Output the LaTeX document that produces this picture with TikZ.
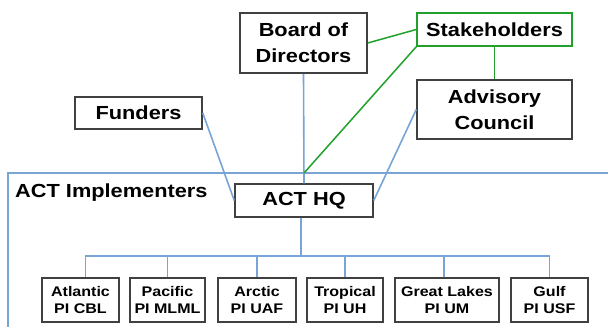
\documentclass[tikz,border=0pt]{standalone}
\usepackage{fontspec}
\setmainfont{Liberation Sans}[FakeStretch=1.15]
\definecolor{boxgray}{RGB}{64,64,64}
\definecolor{lblue}{RGB}{120,164,214}
\definecolor{lgreen}{RGB}{34,160,44}
\begin{document}
\begin{tikzpicture}[x=1bp,y=-1bp,
  box/.style={draw=boxgray, line width=1.5bp, fill=white, inner sep=0pt, align=center,
    font=\bfseries\fontsize{19}{26.5}\selectfont},
  small/.style={draw=boxgray, line width=1.5bp, fill=white, inner sep=0pt, align=center,
    minimum height=44bp, font=\bfseries\fontsize{14}{17.5}\selectfont},
  bl/.style={draw=lblue, line width=1.6bp},
  gl/.style={draw=lgreen, line width=1.5bp}]
\useasboundingbox (0,0) rectangle (608,326);
\fill[white] (0,0) rectangle (608,326);
% frame of ACT Implementers
\draw[bl] (620,173) -- (8,173) -- (8,340);
\coordinate (meet) at (304,173);
\coordinate (bus) at (301,256);
% top nodes
\node[box, minimum width=127bp, minimum height=60bp] (board) at (303.5,43) {Board of\\Directors};
\node[box, draw=lgreen, minimum width=155bp, minimum height=33bp] (stake) at (494.5,29.5) {Stakeholders};
\node[box, minimum width=155bp, minimum height=59bp] (adv) at (494.5,109.5) {Advisory\\Council};
\node[box, minimum width=127bp, minimum height=32bp] (fund) at (138.5,113) {Funders};
\node[box, minimum width=138bp, minimum height=33bp] (hq) at (304,200.5) {ACT HQ};
\node[anchor=base west, inner sep=0pt, font=\bfseries\fontsize{19}{23}\selectfont] (impl) at (15,197) {ACT Implementers};
% bottom nodes
\node[small, minimum width=77bp] (atl) at (80.5,300) {Atlantic\\PI CBL};
\node[small, minimum width=75bp] (pac) at (167.5,300) {Pacific\\PI MLML};
\node[small, minimum width=78bp] (arc) at (257,300) {Arctic\\PI UAF};
\node[small, minimum width=76bp] (trop) at (345,300) {Tropical\\PI UH};
\node[small, minimum width=104bp] (gl) at (447,300) {Great Lakes\\PI UM};
\node[small, minimum width=77bp] (gulf) at (549.5,300) {Gulf\\PI USF};
% blue connectors
\draw[bl] (board.south) -- (hq.north);
\draw[bl] (fund.east) -- (hq.west);
\draw[bl] (hq.east) -- (adv.west);
\draw[bl] (bus |- hq.south) -- (bus);
\draw[bl] ([xshift=5bp]atl.north) -- ([xshift=5bp]atl.north |- bus) -| (gulf.north);
\draw[bl] (pac.north) -- (pac.north |- bus);
\draw[bl] (arc.north) -- (arc.north |- bus);
\draw[bl] (trop.north) -- (trop.north |- bus);
\draw[bl] ([xshift=-3bp]gl.north) -- ([xshift=-3bp]gl.north |- bus);
% green connectors
\draw[gl] (board.east) -- (stake.west);
\draw[gl] (stake.south) -- (adv.north);
\draw[gl] (stake.south west) -- (meet);
\end{tikzpicture}
\end{document}
